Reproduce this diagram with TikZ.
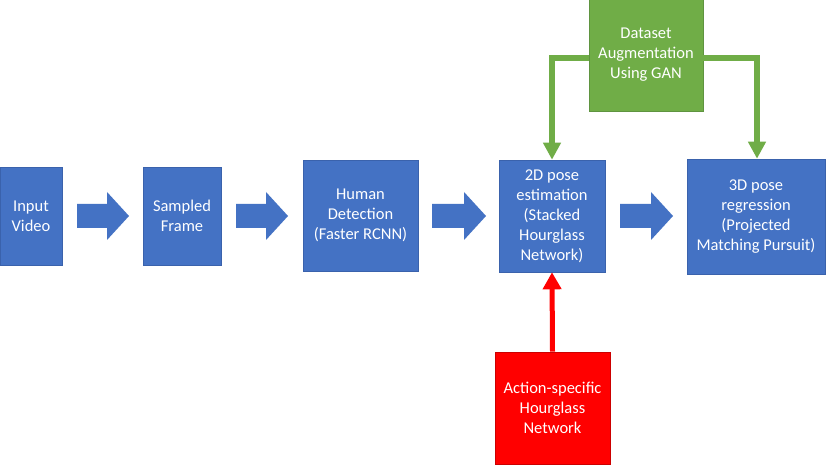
\documentclass[tikz,border=0pt]{standalone}
\usepackage{fontspec}
\setmainfont{Carlito}
\usetikzlibrary{arrows.meta}
\definecolor{obl}{HTML}{4472C4}
\definecolor{obd}{HTML}{3A62AC}
\definecolor{ogr}{HTML}{70AD47}
\definecolor{ogd}{HTML}{5F9440}
\definecolor{ord}{HTML}{FF0000}
\tikzset{
  box/.style={rectangle, fill=obl, draw=obd, line width=0.6pt, inner sep=0pt, align=center,
    text=white, font=\fontsize{16.5}{20}\selectfont},
  gbox/.style={box, fill=ogr, draw=ogd},
  rbox/.style={box, fill=ord, draw=ord!80!black},
  barrow/.style={fill=obl, draw=none},
  garrow/.style={draw=ogr, line width=6.5pt, -{Triangle[length=17pt, width=17pt]}},
  rarrow/.style={draw=ord, line width=5pt, -{Triangle[length=17pt, width=18pt]}}
}
\newcommand{\blockarr}[3]{%
  \fill[barrow] (#1,-#3+12) -- (#2-22,-#3+12) -- (#2-22,-#3+24) -- (#2,-#3) --
    (#2-22,-#3-24) -- (#2-22,-#3-12) -- (#1,-#3-12) -- cycle;}
\begin{document}
\begin{tikzpicture}[x=1pt,y=1pt]
\useasboundingbox (0,0) rectangle (827,-470);
\fill[white] (0,0) rectangle (827,-470);
\node[box, minimum width=62pt, minimum height=98pt] (inp) at (31,-216) {Input\\Video};
\node[box, minimum width=78pt, minimum height=98pt] (samp) at (182,-216) {Sampled\\Frame};
\node[box, minimum width=115pt, minimum height=111pt] (hum) at (360.5,-215.5) {Human\\Detection\\(Faster RCNN)};
\node[box, minimum width=106pt, minimum height=112pt] (pose2) at (552,-216) {2D pose\\estimation\\(Stacked\\Hourglass\\Network)};
\node[box, minimum width=138pt, minimum height=115pt] (pose3) at (756,-216.5) {3D pose\\regression\\(Projected\\Matching Pursuit)};
\node[gbox, minimum width=114pt, minimum height=112pt] (gan) at (646,-55) {Dataset\\Augmentation\\Using GAN};
\node[rbox, minimum width=115pt, minimum height=112pt] (act) at (552.5,-408) {Action-specific\\Hourglass\\Network};
\blockarr{77}{129}{216}
\blockarr{236}{288}{216}
\blockarr{432}{486}{216}
\blockarr{620}{673}{216}
\coordinate (gl) at (552,-58);
\coordinate (gr) at (757,-58);
\draw[garrow] (gan.west |- gl) -- (gl) -- (pose2.north);
\draw[garrow] (gan.east |- gr) -- (gr) -- (gr |- pose3.north);
\draw[rarrow] (act.north) -- (pose2.south);
\end{tikzpicture}
\end{document}
